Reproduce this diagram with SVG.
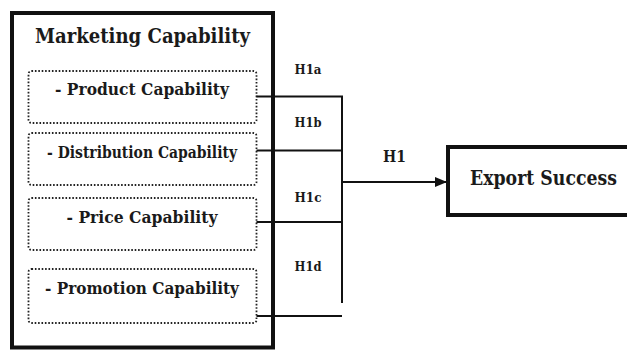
<svg xmlns="http://www.w3.org/2000/svg" width="627" height="351" viewBox="0 0 627 351">
<defs>
<style>
.box{fill:#fff;stroke:#111;stroke-width:4}
.dot{fill:none;stroke:#222;stroke-width:1.8;stroke-dasharray:1.6 1.8}
text{font-family:'DejaVu Serif','Liberation Serif',serif;font-weight:bold;fill:#1a1a1a;text-anchor:middle}
.big{font-size:20px}
.mid{font-size:17px}
.lab{font-size:13px}
.h1{font-size:16px}
.ln{fill:none;stroke:#111;stroke-width:2}
</style>
<marker id="ah" markerWidth="12" markerHeight="10" refX="11" refY="5" orient="auto" markerUnits="userSpaceOnUse">
<path d="M0,0 L12,5 L0,10 Z" fill="#111"/>
</marker>
</defs>
<rect width="627" height="351" fill="#fff"/>
<g id="marketing">
<rect class="box" x="12" y="13" width="261" height="334.5"/>
<text class="big" x="142.5" y="43" textLength="215" lengthAdjust="spacingAndGlyphs">Marketing Capability</text>
</g>
<g id="product">
<rect class="dot" x="28.5" y="71" width="228" height="52" rx="3"/>
<text class="mid" x="142" y="95" textLength="174" lengthAdjust="spacingAndGlyphs">- Product Capability</text>
</g>
<g id="distribution">
<rect class="dot" x="28.5" y="133" width="228" height="52" rx="3"/>
<text class="mid" x="142" y="158" textLength="190" lengthAdjust="spacingAndGlyphs">- Distribution Capability</text>
</g>
<g id="price">
<rect class="dot" x="28.5" y="198" width="228" height="52" rx="3"/>
<text class="mid" x="142" y="222.5" textLength="151" lengthAdjust="spacingAndGlyphs">- Price Capability</text>
</g>
<g id="promotion">
<rect class="dot" x="28.5" y="269" width="228" height="54" rx="3"/>
<text class="mid" x="142" y="294" textLength="194" lengthAdjust="spacingAndGlyphs">- Promotion Capability</text>
</g>
<g id="export">
<rect class="box" x="448" y="147" width="200" height="68"/>
<text class="big" x="543.5" y="185" textLength="147" lengthAdjust="spacingAndGlyphs">Export Success</text>
</g>
<g id="connectors">
<path class="ln" d="M256.5,96.5 H342 V303"/>
<path class="ln" d="M256.5,150.5 H342"/>
<path class="ln" d="M256.5,222 H342"/>
<path class="ln" d="M256.5,316 H342"/>
<path class="ln" d="M342,182 H446" marker-end="url(#ah)"/>
<text class="lab" x="308" y="74" textLength="27" lengthAdjust="spacingAndGlyphs">H1a</text>
<text class="lab" x="308" y="126.5" textLength="27" lengthAdjust="spacingAndGlyphs">H1b</text>
<text class="lab" x="308" y="201.5" textLength="27" lengthAdjust="spacingAndGlyphs">H1c</text>
<text class="lab" x="308" y="270.5" textLength="27" lengthAdjust="spacingAndGlyphs">H1d</text>
<text class="h1" x="394.5" y="161.5" textLength="23" lengthAdjust="spacingAndGlyphs">H1</text>
</g>
</svg>
